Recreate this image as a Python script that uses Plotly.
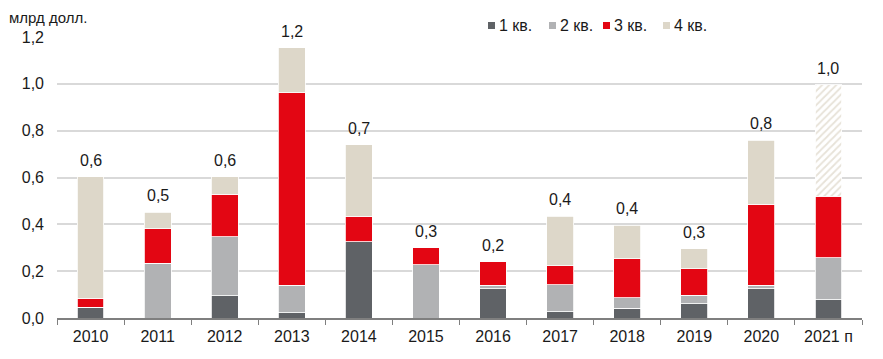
import numpy as np
import plotly.graph_objects as go

years = ["2010", "2011", "2012", "2013", "2014", "2015", "2016", "2017", "2018", "2019", "2020", "2021 п"]
q1 = [0.045, 0.0, 0.095, 0.023, 0.325, 0.0, 0.126, 0.027, 0.041, 0.061, 0.126, 0.077]
q2 = [0.0, 0.233, 0.251, 0.117, 0.0, 0.228, 0.014, 0.116, 0.045, 0.037, 0.014, 0.181]
q3 = [0.039, 0.149, 0.182, 0.823, 0.110, 0.071, 0.100, 0.081, 0.168, 0.113, 0.345, 0.261]
q4 = [0.520, 0.070, 0.076, 0.192, 0.304, 0.0, 0.0, 0.211, 0.142, 0.084, 0.275, 0.477]
total_labels = ["0,6", "0,5", "0,6", "1,2", "0,7", "0,3", "0,2", "0,4", "0,4", "0,3", "0,8", "1,0"]
series_names = ["1 кв.", "2 кв.", "3 кв.", "4 кв."]
forecast_year = "2021 п"
y_ticks = [0.0, 0.2, 0.4, 0.6, 0.8, 1.0, 1.2]

colors = ["#5f6266", "#b1b2b4", "#e30613", "#ddd7c9"]
font_family = "Liberation Sans, Arial, sans-serif"
txt_color = "#1a1a1a"

fig = go.Figure()
for name, vals, col in zip(series_names[:3], [q1, q2, q3], colors[:3]):
    fig.add_trace(go.Bar(x=years, y=vals, name=name,
                         marker=dict(color=col, line=dict(color="white", width=0.8)),
                         width=0.4, hoverinfo="skip"))

q4_solid = [None if yr == forecast_year else v for yr, v in zip(years, q4)]
q4_hatch = [v if yr == forecast_year else None for yr, v in zip(years, q4)]
fig.add_trace(go.Bar(x=years, y=q4_solid, name=series_names[3], width=0.4, hoverinfo="skip",
                     marker=dict(color=colors[3], line=dict(color="white", width=0.8))))
fig.add_trace(go.Bar(x=years, y=q4_hatch, name=series_names[3] + " (прогноз)", width=0.4, hoverinfo="skip",
                     marker=dict(color="white", line=dict(color="white", width=0.8),
                                 pattern=dict(shape="/", fgcolor="#cfc6b2", bgcolor="white",
                                              size=5, solidity=0.35))))

totals = np.array(q1) + np.array(q2) + np.array(q3) + np.array(q4)

# the page body has an 8px margin, so the figure sits at (8, 8)
W, H = 875, 351
ML, MR, MT, MB = 49, 21, 29, 41
plot_w = W - ML - MR
plot_h = H - MT - MB
off = 8


def px_x(p):
    return (p - off - ML) / plot_w


def px_y(p):
    return (off + H - MB - p) / plot_h


annotations = []
# on a category axis annotation x is the category index
for i, (t, lab) in enumerate(zip(totals, total_labels)):
    annotations.append(dict(x=i, y=float(t), xref="x", yref="y", text=lab, showarrow=False,
                            yanchor="bottom", yshift=6,
                            font=dict(size=16, color=txt_color, family=font_family)))

annotations.append(dict(x=px_x(7), y=px_y(17), xref="paper", yref="paper", xanchor="left", yanchor="middle",
                        text="млрд долл.", showarrow=False, font=dict(size=15, color=txt_color)))

legend_x = [488, 549, 603, 663]
shapes = []
for lx, name, col in zip(legend_x, series_names, colors):
    shapes.append(dict(type="rect", xref="paper", yref="paper",
                       x0=px_x(lx), x1=px_x(lx + 7), y0=px_y(29), y1=px_y(22),
                       fillcolor=col, line=dict(width=0)))
    annotations.append(dict(x=px_x(lx + 9), y=px_y(25.5), xref="paper", yref="paper", xanchor="left",
                            yanchor="middle", text=name, showarrow=False, font=dict(size=16, color=txt_color)))

fig.update_layout(
    barmode="stack",
    width=W, height=H,
    margin=dict(l=ML, r=MR, t=MT, b=MB),
    plot_bgcolor="white", paper_bgcolor="white",
    separators=", ",
    showlegend=False,
    font=dict(family=font_family, size=16, color=txt_color),
    annotations=annotations, shapes=shapes,
)

fig.update_xaxes(type="category", showline=True, linecolor="#7f7f7f", linewidth=1.5,
                 ticks="outside", tickson="boundaries", ticklen=5, tickcolor="#7f7f7f", tickwidth=1,
                 showgrid=False, tickfont=dict(size=16, color=txt_color), ticklabelstandoff=3,
                 automargin=False)
fig.update_yaxes(range=[0, 1.2001], tickvals=y_ticks, tickformat=".1f", showgrid=True, gridcolor="#d9d9d9",
                 gridwidth=1.5, zeroline=False, showline=False, ticks="",
                 tickfont=dict(size=16, color=txt_color), ticklabelstandoff=12, automargin=False)

fig.write_html("out.html")
